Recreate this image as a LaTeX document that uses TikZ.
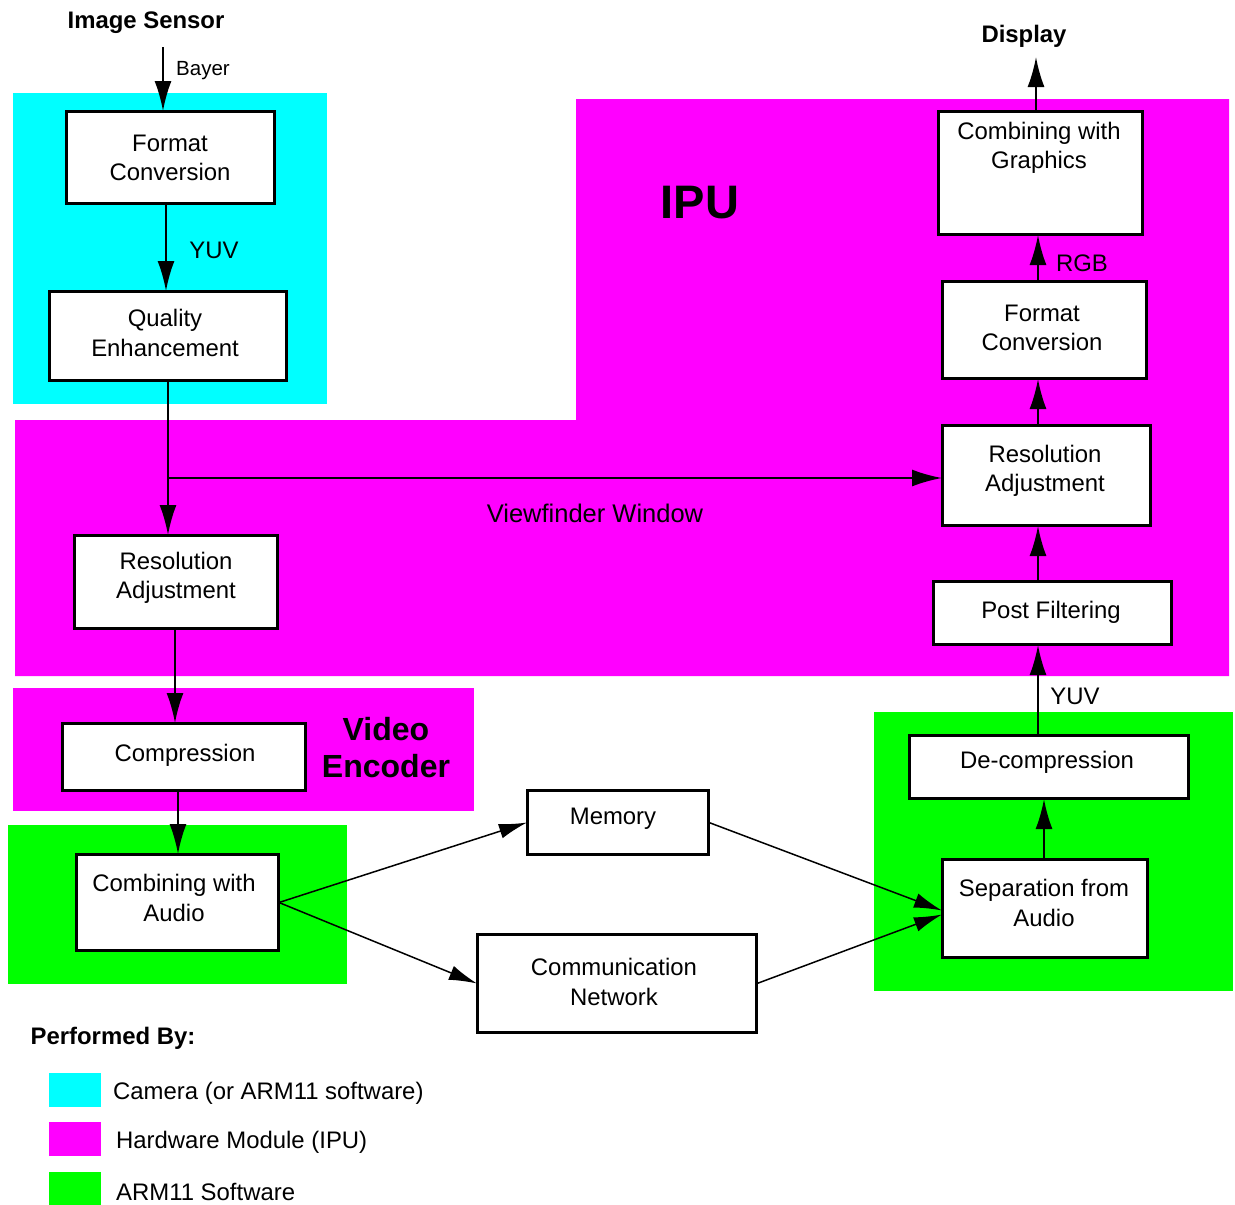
\documentclass[tikz,border=0pt]{standalone}
\usepackage{fontspec}
\setmainfont{Liberation Sans}
\usetikzlibrary{arrows.meta}
\definecolor{cyanA}{RGB}{0,255,255}
\definecolor{magA}{RGB}{255,0,255}
\definecolor{grnA}{RGB}{0,255,0}
\begin{document}
\begin{tikzpicture}[x=1pt,y=-1pt,
  box/.style={draw=black, line width=2pt, fill=white, inner sep=0pt},
  lbl/.style={inner sep=0pt, align=center, yshift=-2pt, font=\fontsize{23.9}{29.5}\selectfont},
  blbl/.style={inner sep=0pt, align=center, yshift=-2pt, font=\fontsize{23.9}{29.5}\selectfont\bfseries},
  arr/.style={line width=2pt, -{Latex[length=30pt,width=17pt]}},
  darr/.style={line width=1.5pt, -{Latex[length=28pt,width=15pt]}},
]
\useasboundingbox (0,0) rectangle (1235,1205);
% regions
\fill[cyanA] (13,93) rectangle (327,404);
\fill[magA] (576,99) -- (1229,99) -- (1229,676) -- (15,676) -- (15,420) -- (576,420) -- cycle;
\fill[magA] (13,688) rectangle (474,811);
\fill[grnA] (8,825) rectangle (347,984);
\fill[grnA] (874,712) rectangle (1233,991);

% boxes
\node[box, minimum width=207pt, minimum height=91pt] (fc1) at (170.5,157.5) {};
\node[box, minimum width=236pt, minimum height=88pt] (qe) at (168,336) {};
\node[box, minimum width=202pt, minimum height=92pt] (ra1) at (176,582) {};
\node[box, minimum width=242pt, minimum height=66pt] (comp) at (184,757) {};
\node[box, minimum width=201pt, minimum height=95pt] (cwa) at (177.5,902.5) {};
\node[box, minimum width=180pt, minimum height=63pt] (mem) at (618,822.5) {};
\node[box, minimum width=278pt, minimum height=97pt] (comm) at (617,983.5) {};
\node[box, minimum width=203pt, minimum height=122pt] (cwg) at (1040.5,173) {};
\node[box, minimum width=203pt, minimum height=96pt] (fc2) at (1044.5,330) {};
\node[box, minimum width=207pt, minimum height=99pt] (ra2) at (1046.5,475.5) {};
\node[box, minimum width=237pt, minimum height=62pt] (pf) at (1052.5,613) {};
\node[box, minimum width=278pt, minimum height=62pt] (dec) at (1049,767) {};
\node[box, minimum width=204pt, minimum height=97pt] (sfa) at (1045,908.5) {};

% coordinates
\coordinate (sensorout) at (163,47);
\coordinate (br) at (168,478);
\coordinate (xr) at (1038,0);
\coordinate (disp) at (1036,57);

% connectors
\draw[arr] (sensorout) -- (sensorout |- fc1.north);
\draw[arr] (166,203) coordinate (fc1out) -- (fc1out |- qe.north);
\draw[arr] (qe.south) -- (qe.south |- ra1.north);
\draw[arr] (br) -- (br -| ra2.west);
\draw[arr] (175,628) coordinate (ra1out) -- (ra1out |- comp.north);
\draw[arr] (178,790) coordinate (compout) -- (compout |- cwa.north);
\draw[darr] (cwa.east) -- (mem.west);
\draw[darr] (cwa.east) -- (comm.west);
\draw[darr] (mem.east) -- ([yshift=-2pt]sfa.west);
\draw[darr] (comm.east) -- ([yshift=-6pt]sfa.west);
\draw[arr] (sfa.north -| 1044,0) -- (dec.south -| 1044,0);
\draw[arr] (dec.north -| xr) -- (pf.south -| xr);
\draw[arr] (pf.north -| xr) -- (ra2.south -| xr);
\draw[arr] (ra2.north -| xr) -- (fc2.south -| xr);
\draw[arr] (fc2.north -| xr) -- (cwg.south -| xr);
\draw[arr] (cwg.north -| disp) -- (disp);

% redraw box borders on top
\foreach \n in {fc1,qe,ra1,comp,cwa,mem,comm,cwg,fc2,ra2,pf,dec,sfa}
  \draw[line width=2pt] (\n.north west) rectangle (\n.south east);

% box texts
\node[lbl] (tfc1) at (170,156) {Format\\Conversion};
\node[lbl] (tqe) at (165,331) {Quality\\Enhancement};
\node[lbl] (tra1) at (176,576) {Resolution\\Adjustment};
\node[lbl] (tcomp) at (185,753) {Compression};
\node[lbl] (tcwa) at (174,896) {Combining with\\Audio};
\node[lbl] (tmem) at (613,817) {Memory};
\node[lbl] (tcomm) at (614,980) {Communication\\Network};
\node[lbl] (tcwg) at (1039,146) {Combining with\\Graphics};
\node[lbl] (tfc2) at (1042,326) {Format\\Conversion};
\node[lbl] (tra2) at (1045,469) {Resolution\\Adjustment};
\node[lbl] (tpf) at (1051,610) {Post Filtering};
\node[lbl] (tdec) at (1047,760) {De-compression};
\node[lbl] (tsfa) at (1044,901) {Separation from\\Audio};

% labels
\node[blbl] (sensor) at (146,21) {Image Sensor};
\node[lbl, font=\fontsize{20.5}{24}\selectfont] (bayer) at (203,69) {Bayer};
\node[lbl] (yuv1) at (214,248) {YUV};
\node[blbl] (display) at (1024,34) {Display};
\node[lbl] (rgb) at (1082,261) {RGB};
\node[blbl, font=\fontsize{47}{50}\selectfont\bfseries] (ipu) at (700,201) {IPU};
\node[lbl, font=\fontsize{25.5}{30}\selectfont] (vf) at (595,511) {Viewfinder Window};
\node[blbl, font=\fontsize{32}{37}\selectfont\bfseries] (venc) at (386,746) {Video\\Encoder};
\node[lbl] (yuv2) at (1075,694) {YUV};

% legend
\node[blbl] (perf) at (113,1036) {Performed By:};
\fill[cyanA] (49,1073) rectangle (101,1107);
\fill[magA] (49,1122) rectangle (101,1156);
\fill[grnA] (49,1172) rectangle (101,1205);
\node[lbl, anchor=west] (l1) at (113,1091) {Camera (or ARM11 software)};
\node[lbl, anchor=west] (l2) at (116,1140) {Hardware Module (IPU)};
\node[lbl, anchor=west] (l3) at (116,1190) {ARM11 Software};
\end{tikzpicture}
\end{document}
